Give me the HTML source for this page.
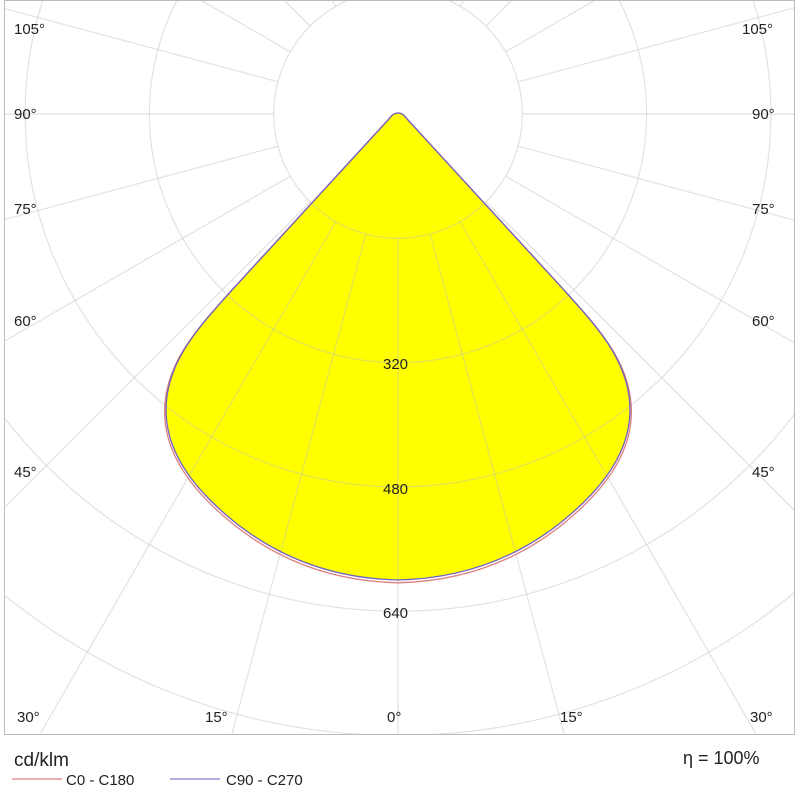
<!DOCTYPE html>
<html><head><style>
html,body{margin:0;padding:0;background:#fff;overflow:hidden;width:798px;height:800px;}
svg{display:block;font-family:"Liberation Sans",sans-serif;overflow:hidden;}
</style></head><body>
<svg width="798" height="800" viewBox="0 0 798 800">
<defs>
<clipPath id="c"><rect x="4" y="0" width="791" height="734"/></clipPath>
<path id="lc" d="M398,113 C394,113 392,115 388,120 L232,290 C198,328 166,362 166,410 C166,440 180,470 210,500 C250,540 310,578 398,580 C486,578 546,540 586,500 C616,470 630,440 630,410 C630,362 598,328 564,290 L408,120 C404,115 402,113 398,113 Z"/>
</defs>
<rect x="4.5" y="0.5" width="790" height="734" fill="#fff" stroke="#bbb"/>
<g clip-path="url(#c)">
<use href="#lc" fill="#ffff00"/>
<g fill="none" stroke="rgba(190,190,190,0.45)" stroke-width="1.2">
<circle cx="398" cy="114" r="124.3"/><circle cx="398" cy="114" r="248.6"/><circle cx="398" cy="114" r="372.9"/><circle cx="398" cy="114" r="497.2"/><circle cx="398" cy="114" r="621.5"/><circle cx="398" cy="114" r="745.8"/><circle cx="398" cy="114" r="870.1"/>
<line x1="398" y1="238.3" x2="398" y2="1400" transform="rotate(0 398 114)"/>
<line x1="398" y1="238.3" x2="398" y2="1400" transform="rotate(15 398 114)"/>
<line x1="398" y1="238.3" x2="398" y2="1400" transform="rotate(30 398 114)"/>
<line x1="398" y1="238.3" x2="398" y2="1400" transform="rotate(45 398 114)"/>
<line x1="398" y1="238.3" x2="398" y2="1400" transform="rotate(60 398 114)"/>
<line x1="398" y1="238.3" x2="398" y2="1400" transform="rotate(75 398 114)"/>
<line x1="398" y1="238.3" x2="398" y2="1400" transform="rotate(90 398 114)"/>
<line x1="398" y1="238.3" x2="398" y2="1400" transform="rotate(105 398 114)"/>
<line x1="398" y1="238.3" x2="398" y2="1400" transform="rotate(120 398 114)"/>
<line x1="398" y1="238.3" x2="398" y2="1400" transform="rotate(135 398 114)"/>
<line x1="398" y1="238.3" x2="398" y2="1400" transform="rotate(150 398 114)"/>
<line x1="398" y1="238.3" x2="398" y2="1400" transform="rotate(165 398 114)"/>
<line x1="398" y1="238.3" x2="398" y2="1400" transform="rotate(180 398 114)"/>
<line x1="398" y1="238.3" x2="398" y2="1400" transform="rotate(195 398 114)"/>
<line x1="398" y1="238.3" x2="398" y2="1400" transform="rotate(210 398 114)"/>
<line x1="398" y1="238.3" x2="398" y2="1400" transform="rotate(225 398 114)"/>
<line x1="398" y1="238.3" x2="398" y2="1400" transform="rotate(240 398 114)"/>
<line x1="398" y1="238.3" x2="398" y2="1400" transform="rotate(255 398 114)"/>
<line x1="398" y1="238.3" x2="398" y2="1400" transform="rotate(270 398 114)"/>
<line x1="398" y1="238.3" x2="398" y2="1400" transform="rotate(285 398 114)"/>
<line x1="398" y1="238.3" x2="398" y2="1400" transform="rotate(300 398 114)"/>
<line x1="398" y1="238.3" x2="398" y2="1400" transform="rotate(315 398 114)"/>
<line x1="398" y1="238.3" x2="398" y2="1400" transform="rotate(330 398 114)"/>
<line x1="398" y1="238.3" x2="398" y2="1400" transform="rotate(345 398 114)"/>
</g>
<g transform="translate(398 114) scale(1.006) translate(-398 -114)"><use href="#lc" fill="none" stroke="#e08080" stroke-width="1.3"/></g>
<use href="#lc" fill="none" stroke="#7060c0" stroke-width="1.3"/>
</g>
<g font-size="15" fill="#222">
<text x="14" y="34">105°</text><text x="14" y="119">90°</text><text x="14" y="214">75°</text><text x="14" y="326">60°</text><text x="14" y="477">45°</text>
<text x="742" y="34">105°</text><text x="752" y="119">90°</text><text x="752" y="214">75°</text><text x="752" y="326">60°</text><text x="752" y="477">45°</text>
<text x="17" y="722">30°</text><text x="205" y="722">15°</text><text x="387" y="722">0°</text><text x="560" y="722">15°</text><text x="750" y="722">30°</text>
<text x="383" y="369">320</text><text x="383" y="494">480</text><text x="383" y="618">640</text>
</g>
<text x="14" y="766" font-size="19" fill="#222">cd/klm</text>
<text x="683" y="764" font-size="18" fill="#222">η = 100%</text>
<line x1="12" y1="779" x2="62" y2="779" stroke="#e08080" stroke-width="1.3"/>
<text x="66" y="785" font-size="15" fill="#222">C0 - C180</text>
<line x1="170" y1="779" x2="220" y2="779" stroke="#8080d0" stroke-width="1.3"/>
<text x="226" y="785" font-size="15" fill="#222">C90 - C270</text>
</svg>
</body></html>
